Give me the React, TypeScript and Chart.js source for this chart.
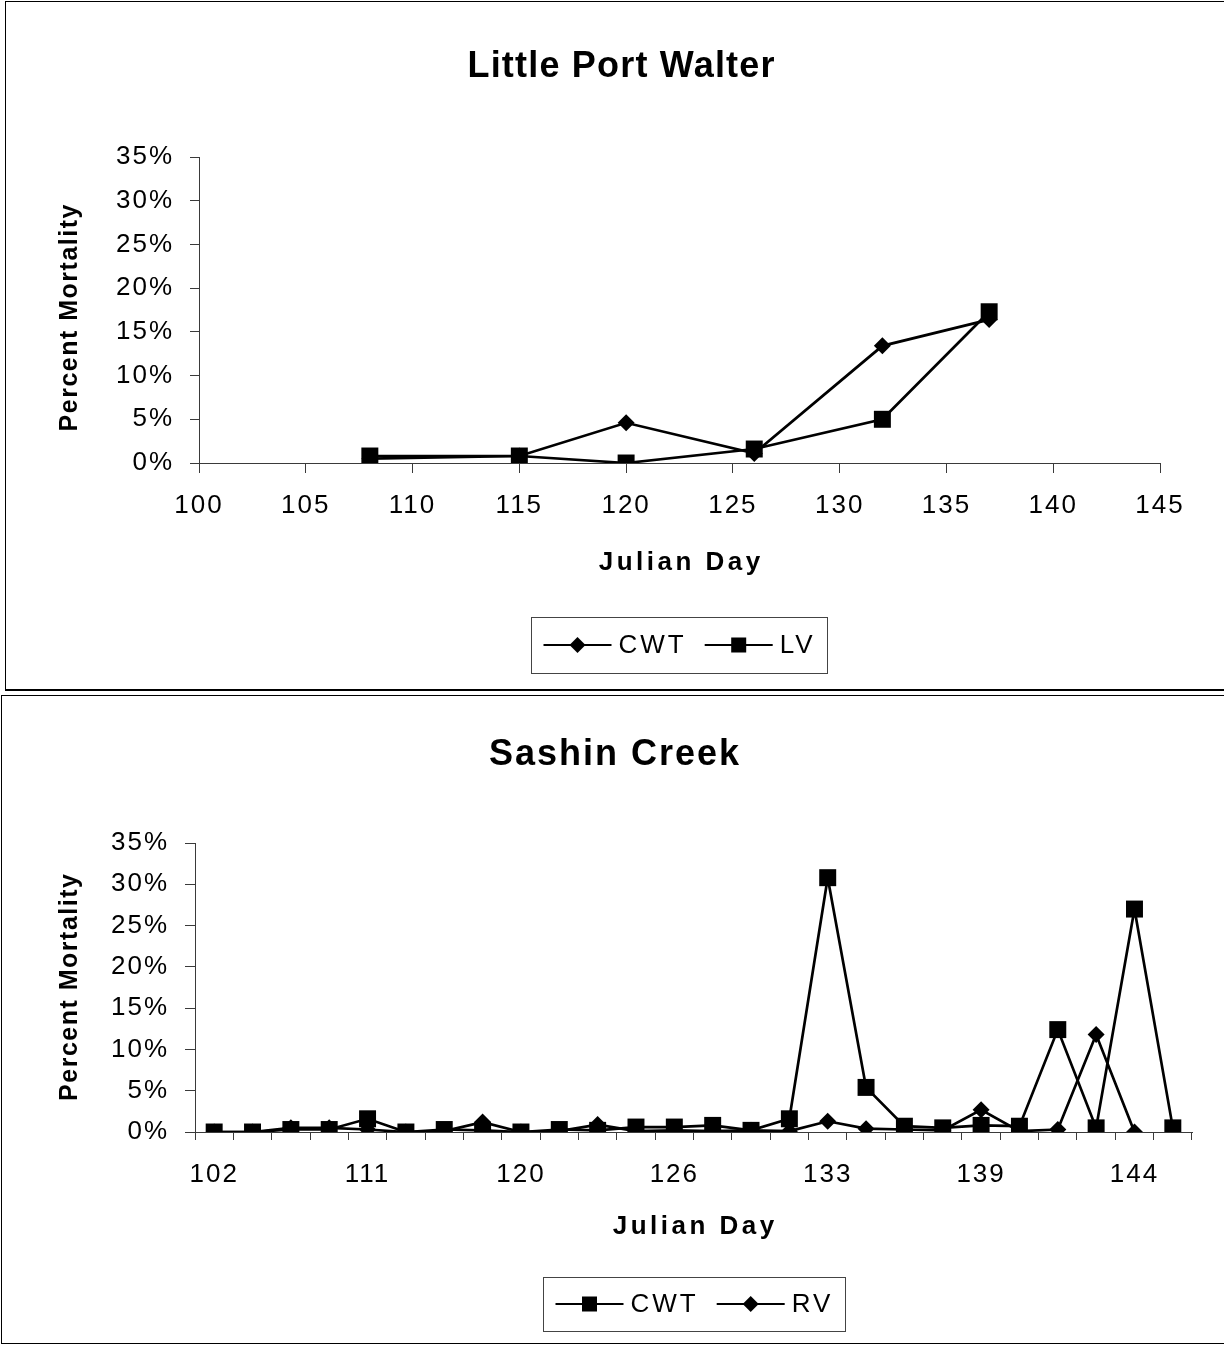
import React, { useEffect, useRef } from 'react';
import { Chart, registerables } from 'chart.js';

Chart.register(...registerables);

const FONT = '"Liberation Sans", Arial, Helvetica, sans-serif';

// ---------- Little Port Walter ----------
const lpwTitle = 'Little Port Walter';
const lpwDays = [108, 115, 120, 126, 132, 137];
const lpwCWT = [0.5, 0.8, 4.6, 1.1, 13.4, 16.4];
const lpwLV = [0.8, 0.8, 0.0, 1.6, 5.0, 17.3];
const lpwXMin = 100;
const lpwXMax = 145;
const lpwXStep = 5;

// ---------- Sashin Creek ----------
const scTitle = 'Sashin Creek';
const scDayLabels = [
  '102', '', '', '', '111', '', '', '', '120', '', '', '', '126',
  '', '', '', '133', '', '', '', '139', '', '', '', '144', '',
];
const scCWT = [
  0, 0, 0.3, 0.3, 1.6, 0, 0.3, 0.2, 0, 0.3, 0.2, 0.6, 0.6,
  0.8, 0.2, 1.6, 30.8, 5.4, 0.7, 0.5, 0.8, 0.7, 12.4, 0.5, 27.0, 0.5,
];
const scRV = [
  0, 0, 0.5, 0.5, 0.3, 0, 0.1, 1.2, 0, 0.1, 0.9, 0.1, 0.2,
  0.1, 0.2, 0.1, 1.3, 0.4, 0.3, 0.2, 2.7, 0.1, 0.3, 11.8, 0, null,
];

// ---------- shared axis ----------
const yMin = 0;
const yMax = 35;
const yStep = 5;
const yAxisTitle = 'Percent Mortality';
const xAxisTitle = 'Julian Day';

type LegendItem = { label: string; marker: 'square' | 'diamond' };

type Decor = {
  title: string;
  titleX: number;
  titleBaseline: number;
  titleSpacing: number;
  xTitleBaseline: number;
  yTitleX: number;
  yTitleShift: number;
  legend: LegendItem[];
  legendTop: number;
  legendHeight: number;
};

const TICK_SPACING = '2px';

function spacedText(ctx: CanvasRenderingContext2D, text: string, x: number, y: number, font: string, spacing: number, align: CanvasTextAlign, baseline: CanvasTextBaseline) {
  ctx.save();
  ctx.font = font;
  (ctx as any).letterSpacing = spacing + 'px';
  ctx.textAlign = align;
  ctx.textBaseline = baseline;
  ctx.fillStyle = '#000';
  let dx = 0;
  if (align === 'center') dx = spacing / 2;
  ctx.fillText(text, x + dx, y);
  ctx.restore();
}

function drawMarker(ctx: CanvasRenderingContext2D, kind: 'square' | 'diamond', x: number, y: number) {
  ctx.save();
  ctx.fillStyle = '#000';
  if (kind === 'square') {
    ctx.fillRect(x - 7.5, y - 7.5, 15, 15);
  } else {
    const r = 8;
    ctx.beginPath();
    ctx.moveTo(x, y - r);
    ctx.lineTo(x + r, y);
    ctx.lineTo(x, y + r);
    ctx.lineTo(x - r, y);
    ctx.closePath();
    ctx.fill();
  }
  ctx.restore();
}

function makeDecorPlugin(d: Decor) {
  return {
    id: 'decor',
    beforeLayout(chart: any) {
      chart.ctx.letterSpacing = TICK_SPACING;
    },
    beforeDraw(chart: any) {
      chart.ctx.letterSpacing = TICK_SPACING;
    },
    afterDraw(chart: any) {
      const ctx: CanvasRenderingContext2D = chart.ctx;
      const ca = chart.chartArea;
      const cx = (ca.left + ca.right) / 2;
      const cy = (ca.top + ca.bottom) / 2;
      // chart title
      spacedText(ctx, d.title, d.titleX, d.titleBaseline, `bold 36px ${FONT}`, d.titleSpacing, 'center', 'alphabetic');
      // x axis title
      spacedText(ctx, xAxisTitle, cx, d.xTitleBaseline, `bold 26px ${FONT}`, 3.5, 'center', 'alphabetic');
      // y axis title
      ctx.save();
      ctx.translate(d.yTitleX, cy + d.yTitleShift);
      ctx.rotate(-Math.PI / 2);
      spacedText(ctx, yAxisTitle, 0, 0, `bold 25px ${FONT}`, 1.5, 'center', 'middle');
      ctx.restore();
      // legend
      ctx.save();
      const legFont = `26px ${FONT}`;
      ctx.font = legFont;
      (ctx as any).letterSpacing = '3px';
      const lineLen = 68;
      const textGap = 7;
      const itemGap = 18;
      const pad = 12;
      const widths = d.legend.map((it) => ctx.measureText(it.label).width);
      let total = pad * 2;
      widths.forEach((w, i) => {
        total += lineLen + textGap + w + (i > 0 ? itemGap : 0);
      });
      const left = Math.round(cx - total / 2) + 0.5;
      const top = d.legendTop + 0.5;
      ctx.strokeStyle = '#444';
      ctx.lineWidth = 1;
      ctx.strokeRect(left, top, Math.round(total), d.legendHeight);
      const my = d.legendTop + d.legendHeight / 2;
      let x = left + pad;
      d.legend.forEach((it, i) => {
        if (i > 0) x += itemGap;
        ctx.beginPath();
        ctx.strokeStyle = '#000';
        ctx.lineWidth = 2;
        ctx.moveTo(x, my);
        ctx.lineTo(x + lineLen, my);
        ctx.stroke();
        drawMarker(ctx, it.marker, x + lineLen / 2, my);
        x += lineLen + textGap;
        ctx.fillStyle = '#000';
        ctx.textAlign = 'left';
        ctx.textBaseline = 'middle';
        ctx.fillText(it.label, x, my + 1);
        x += widths[i];
      });
      ctx.restore();
    },
  };
}

const tickFont = { family: FONT, size: 26 };
const axisColor = '#3a3a3a';

function yScale(tickLen: number) {
  return {
    min: yMin,
    max: yMax,
    ticks: {
      stepSize: yStep,
      color: '#000',
      font: tickFont,
      padding: 16,
      callback: (v: any) => `${v}%`,
    },
    grid: {
      drawOnChartArea: false,
      drawTicks: true,
      tickLength: tickLen,
      color: axisColor,
      lineWidth: 1,
    },
    border: { display: true, color: axisColor, width: 1 },
    afterFit: (s: any) => {
      s.width = 100;
    },
  };
}

function LPWChart() {
  const ref = useRef<HTMLCanvasElement | null>(null);
  useEffect(() => {
    if (!ref.current) return;
    const chart = new Chart(ref.current, {
      type: 'line',
      data: {
        datasets: [
          {
            label: 'CWT',
            data: lpwDays.map((d, i) => ({ x: d, y: lpwCWT[i] })),
            borderColor: '#000',
            backgroundColor: '#000',
            borderWidth: 2.7,
            pointStyle: 'rectRot',
            pointRadius: 8.5,
            pointBorderWidth: 0,
            pointBackgroundColor: '#000',
          },
          {
            label: 'LV',
            data: lpwDays.map((d, i) => ({ x: d, y: lpwLV[i] })),
            borderColor: '#000',
            backgroundColor: '#000',
            borderWidth: 2.7,
            pointStyle: 'rect',
            pointRadius: 12,
            pointBorderWidth: 0,
            pointBackgroundColor: '#000',
          },
        ],
      },
      options: {
        responsive: false,
        animation: false,
        events: [],
        devicePixelRatio: 1,
        layout: { padding: { left: 99, right: 64, top: 157, bottom: 169 } },
        plugins: { legend: { display: false }, title: { display: false }, tooltip: { enabled: false } },
        scales: {
          x: {
            type: 'linear',
            min: lpwXMin,
            max: lpwXMax,
            ticks: {
              stepSize: lpwXStep,
              color: '#000',
              font: tickFont,
              padding: 17,
              maxRotation: 0,
              autoSkip: false,
            },
            grid: { drawOnChartArea: false, drawTicks: true, tickLength: 10, color: axisColor },
            border: { display: true, color: axisColor, width: 1 },
            afterFit: (s: any) => {
              s.height = 60;
            },
          },
          y: yScale(9),
        },
      } as any,
      plugins: [
        makeDecorPlugin({
          title: lpwTitle,
          titleX: 621,
          titleBaseline: 77,
          titleSpacing: 1.2,
          xTitleBaseline: 570,
          yTitleX: 70,
          yTitleShift: 8,
          legend: [
            { label: 'CWT', marker: 'diamond' },
            { label: 'LV', marker: 'square' },
          ],
          legendTop: 617,
          legendHeight: 56,
        }) as any,
      ],
    });
    return () => chart.destroy();
  }, []);
  return <canvas ref={ref} width={1224} height={692} style={{ position: 'absolute', left: 0, top: 0 }} />;
}

function SCChart() {
  const ref = useRef<HTMLCanvasElement | null>(null);
  useEffect(() => {
    if (!ref.current) return;
    const chart = new Chart(ref.current, {
      type: 'line',
      data: {
        labels: scDayLabels,
        datasets: [
          {
            label: 'CWT',
            data: scCWT,
            borderColor: '#000',
            backgroundColor: '#000',
            borderWidth: 2.7,
            pointStyle: 'rect',
            pointRadius: 12,
            pointBorderWidth: 0,
            pointBackgroundColor: '#000',
          },
          {
            label: 'RV',
            data: scRV,
            borderColor: '#000',
            backgroundColor: '#000',
            borderWidth: 2.7,
            pointStyle: 'rectRot',
            pointRadius: 8.5,
            pointBorderWidth: 0,
            pointBackgroundColor: '#000',
          },
        ],
      },
      options: {
        responsive: false,
        animation: false,
        events: [],
        devicePixelRatio: 1,
        layout: { padding: { left: 95, right: 32, top: 150, bottom: 153 } },
        plugins: { legend: { display: false }, title: { display: false }, tooltip: { enabled: false } },
        scales: {
          x: {
            type: 'category',
            offset: true,
            ticks: {
              color: '#000',
              font: tickFont,
              padding: 19,
              maxRotation: 0,
              autoSkip: false,
            },
            grid: { offset: true, drawOnChartArea: false, drawTicks: true, tickLength: 8, color: axisColor },
            border: { display: true, color: axisColor, width: 1 },
            afterFit: (s: any) => {
              s.height = 60;
            },
          },
          y: yScale(10),
        },
      } as any,
      plugins: [
        makeDecorPlugin({
          title: scTitle,
          titleX: 614,
          titleBaseline: 72,
          titleSpacing: 2,
          xTitleBaseline: 541,
          yTitleX: 70,
          yTitleShift: 0,
          legend: [
            { label: 'CWT', marker: 'square' },
            { label: 'RV', marker: 'diamond' },
          ],
          legendTop: 584,
          legendHeight: 54,
        }) as any,
      ],
    });
    return () => chart.destroy();
  }, []);
  return <canvas ref={ref} width={1224} height={652} style={{ position: 'absolute', left: 0, top: 0 }} />;
}

export default function App() {
  return (
    <div
      style={{
        position: 'absolute',
        left: 0,
        top: 0,
        width: 1224,
        height: 1345,
        overflow: 'hidden',
        background: '#fff',
      }}
    >
      <div
        style={{
          position: 'absolute',
          left: 5,
          top: 1,
          width: 1260,
          height: 690,
          boxSizing: 'border-box',
          borderLeft: '1px solid #000',
          borderTop: '1px solid #000',
          borderBottom: '2px solid #000',
        }}
      />
      <div
        style={{
          position: 'absolute',
          left: 1,
          top: 695,
          width: 1260,
          height: 649,
          boxSizing: 'border-box',
          border: '1px solid #000',
        }}
      />
      <div style={{ position: 'absolute', left: 0, top: 0, width: 1224, height: 692 }}>
        <LPWChart />
      </div>
      <div style={{ position: 'absolute', left: 0, top: 693, width: 1224, height: 652 }}>
        <SCChart />
      </div>
    </div>
  );
}
